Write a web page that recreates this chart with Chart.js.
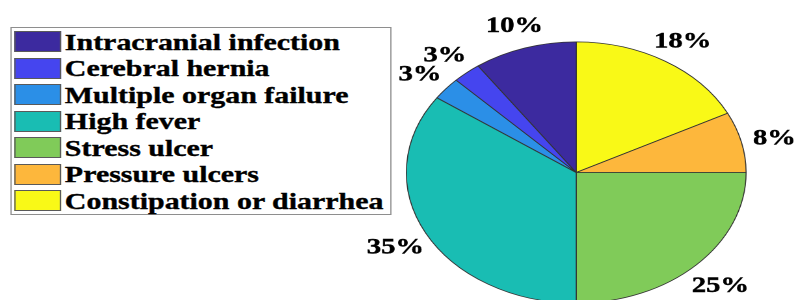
<!DOCTYPE html>
<html lang="en">
<head>
  <meta charset="UTF-8">
  <title>Complications pie</title>
  <script src="https://cdn.jsdelivr.net/npm/chart.js"></script>
  <style>
    body {
      margin: 0;
      background: #fff;
    }

    #frame {
      position: relative;
      width: 796px;
      height: 300px;
      overflow: hidden;
    }

    /* the reference figure is stretched sideways, so draw narrow and widen it */
    #stage {
      position: absolute;
      left: 0;
      top: 0;
      width: 612px;
      height: 320px;
      transform: scaleX(1.3007);
      transform-origin: 0 0;
    }

    #pie {
      position: absolute;
      left: 0;
      top: 0;
    }

    #legend {
      position: absolute;
      left: 7.7px;
      top: 27px;
      width: 293px;
      height: 188px;
      box-sizing: border-box;
      border: 1px solid #8e8e8e;
      background: #fff;
      padding-top: 0.3px;
    }

    .row {
      display: flex;
      align-items: center;
      height: 26.5px;
      font: bold 23px "Liberation Serif", "Times New Roman", serif;
      color: #000;
      -webkit-text-stroke: 0.35px #000;
      white-space: nowrap;
    }

    .swatch {
      width: 35.4px;
      height: 21px;
      margin-left: 2.8px;
      margin-right: 3px;
      box-sizing: border-box;
      border: 1px solid #5a5a5a;
      flex: none;
    }

    .row span {
      padding-top: 2px;
    }
  </style>
</head>
<body>
  <div id="frame">
    <div id="stage">
      <canvas id="pie" width="612" height="320"></canvas>
      <div id="legend"></div>
    </div>
  </div>

  <script>
    // legend order = counter-clockwise order from 12 o'clock
    const categories = [
      'Intracranial infection',
      'Cerebral hernia',
      'Multiple organ failure',
      'High fever',
      'Stress ulcer',
      'Pressure ulcers',
      'Constipation or diarrhea'
    ];
    const shares = [9.8, 2.7, 2.8, 34.7, 25, 7.5, 17.5];
    const sliceColors = ['#3c2a9f', '#4545ef', '#2b8fe7', '#19bdb3', '#80cb59', '#fdb73c', '#f9f917'];

    const total = shares.reduce((a, b) => a + b, 0);
    const pctText = shares.map(v => Math.round(v * 100 / total + 1e-6) + '%');

    // Chart.js goes clockwise, the original goes the other way
    const cwLabels = categories.slice().reverse();
    const cwValues = shares.slice().reverse();
    const cwColors = sliceColors.slice().reverse();
    const cwText = pctText.slice().reverse();

    // html legend with a boxed frame
    const legendEl = document.getElementById('legend');
    categories.forEach((name, i) => {
      const row = document.createElement('div');
      row.className = 'row';
      row.innerHTML = '<div class="swatch" style="background:' + sliceColors[i] + '"></div><span>' + name + '</span>';
      legendEl.appendChild(row);
    });

    // percentage text at 1.2 x radius, like matlab's pie
    const pctLabels = {
      id: 'pctLabels',
      afterDatasetsDraw(chart) {
        const ctx = chart.ctx;
        const meta = chart.getDatasetMeta(0);
        ctx.save();
        ctx.font = 'bold 22px "Liberation Serif", "Times New Roman", serif';
        ctx.fillStyle = '#000';
        ctx.strokeStyle = '#000';
        ctx.lineWidth = 0.4;
        ctx.textAlign = 'center';
        ctx.textBaseline = 'middle';
        meta.data.forEach((arc, i) => {
          const p = arc.getProps(['x', 'y', 'startAngle', 'endAngle', 'outerRadius'], true);
          const mid = (p.startAngle + p.endAngle) / 2;
          const r = p.outerRadius * 1.2;
          const tx = p.x + r * Math.cos(mid);
          const ty = p.y + r * Math.sin(mid) + 3;
          ctx.fillText(cwText[i], tx, ty);
          ctx.strokeText(cwText[i], tx, ty);
        });
        ctx.restore();
      }
    };

    const ctx = document.getElementById('pie').getContext('2d');
    const myChart = new Chart(ctx, {
      type: 'pie',
      data: {
        labels: cwLabels,
        datasets: [{
          data: cwValues,
          backgroundColor: cwColors,
          borderColor: '#333',
          borderWidth: 0.8,
          hoverOffset: 0
        }]
      },
      options: {
        responsive: false,
        devicePixelRatio: 2,
        animation: false,
        layout: {
          padding: { left: 312, right: 38, top: 41, bottom: 16 }
        },
        plugins: {
          legend: { display: false },
          tooltip: { enabled: false }
        }
      },
      plugins: [pctLabels]
    });
  </script>
</body>
</html>
